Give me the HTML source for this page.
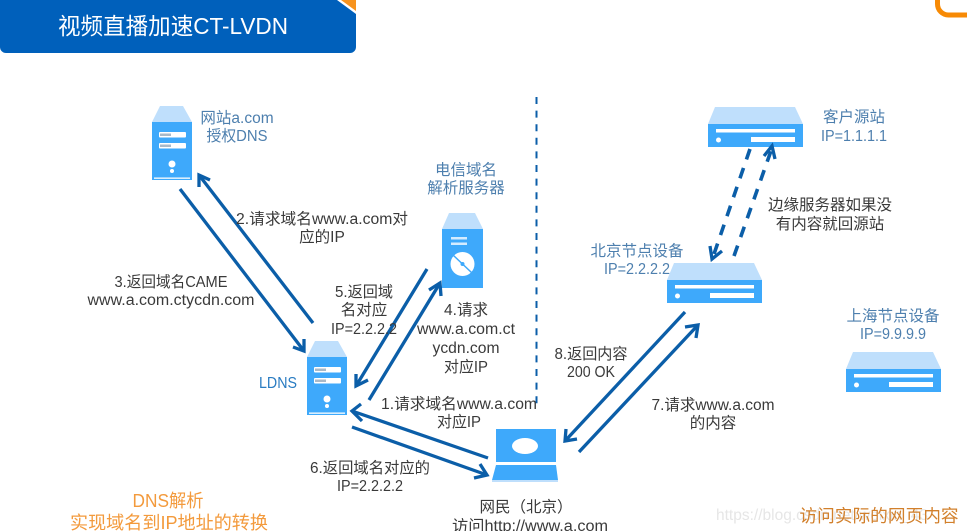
<!DOCTYPE html>
<html>
<head>
<meta charset="utf-8">
<style>
html,body{margin:0;padding:0;background:#fff;width:967px;height:531px;overflow:hidden}
svg{display:block;filter:blur(.35px)}
text{font-family:"Liberation Sans","Noto Sans CJK SC",sans-serif;font-size:15.500px;text-anchor:middle;fill:#3a3a3a}
.b{fill:#4d7fae}
.o{fill:#f39a3c;font-size:18px}
</style>
</head>
<body>
<svg width="967" height="531" viewBox="0 0 967 531" xmlns="http://www.w3.org/2000/svg">
<defs>
<g id="tower">
<path d="M8 0H31L40 16H0Z" fill="#bfdffc"/>
<rect y="16" width="40" height="58" fill="#3ea9fb"/>
<rect x="7" y="26" width="27" height="5.500" rx="1" fill="#fff"/>
<rect x="7" y="37" width="27" height="5.500" rx="1" fill="#fff"/>
<rect x="8" y="27.500" width="11" height="2.500" fill="#a9b9c8"/>
<rect x="8" y="38.500" width="11" height="2.500" fill="#a9b9c8"/>
<circle cx="20" cy="58" r="3.500" fill="#fff"/>
<circle cx="20" cy="65" r="2" fill="#fff"/>
<rect x="2" y="71.500" width="36" height="1.300" fill="#fff"/>
</g>
<g id="rack">
<path d="M7 0H87L95 17H0Z" fill="#bfdffc"/>
<rect y="17" width="95" height="23" fill="#3ea9fb"/>
<rect x="8" y="22" width="79" height="3.500" fill="#fff"/>
<rect x="43" y="30" width="44" height="5" fill="#fff"/>
<circle cx="10.500" cy="33" r="2.500" fill="#fff"/>
</g>
</defs>

<!-- title -->
<path d="M0 0H356V47a6 6 0 0 1-6 6H6a6 6 0 0 1-6-6Z" fill="#0060bb"/>
<path d="M337 0L356 14V0Z" fill="#fff"/>
<path d="M341 0L356 11V0Z" fill="#f7931e"/>
<text x="173" y="34" style="font-size:23px;fill:#fff" textLength="230" lengthAdjust="spacingAndGlyphs">视频直播加速CT-LVDN</text>
<path d="M937.500 0V4a11 11 0 0 0 11 11H967" fill="none" stroke="#f78a05" stroke-width="5"/>

<!-- divider -->
<path d="M536.500 97V405" stroke="#0b5ea8" stroke-width="2" stroke-dasharray="7 6.600"/>

<!-- devices -->
<use href="#tower" x="152" y="106"/>
<use href="#tower" x="307" y="341"/>

<path d="M449 213H475L483 229H442Z" fill="#bfdffc"/>
<rect x="442" y="229" width="41" height="59" fill="#3ea9fb"/>
<rect x="451" y="237" width="16" height="2.500" fill="#d5ecff"/>
<rect x="451" y="242.500" width="16" height="2.500" fill="#d5ecff"/>
<circle cx="462.500" cy="264" r="12" fill="#fff"/>
<path d="M453 255L472 273" stroke="#3ea9fb" stroke-width="1.500"/>
<circle cx="462.500" cy="264" r="2" fill="#3ea9fb"/>

<use href="#rack" x="708" y="107"/>
<use href="#rack" x="667" y="263"/>
<use href="#rack" x="846" y="352"/>

<!-- laptop -->
<rect x="496" y="429" width="60" height="33" fill="#3ea9fb"/>
<path d="M496 465H556L558 480H492Z" fill="#3ea9fb"/>
<rect x="492" y="480" width="66" height="2" fill="#bfdffc"/>
<ellipse cx="525" cy="446" rx="13" ry="8" fill="#fff"/>

<!-- arrows -->
<g fill="none" stroke="#0b5ea8" stroke-width="3.300">
<path d="M180 189L304 351"/><path d="M293 347L304 351L304 339"/>
<path d="M313 323L199 175"/><path d="M199 187L199 175L210 180"/>
<path d="M427 269L356 386"/><path d="M356 374L356 386L368 380"/>
<path d="M369 400L440 283"/><path d="M429 290L440 283L441 296"/>
<path d="M488 458L352 411"/><path d="M361 404L352 411L362 421"/>
<path d="M352 427L487 475"/><path d="M474 478L487 475L480 464"/>
<path d="M685 312L565 441"/><path d="M566 429L565 441L577 439"/>
<path d="M579 452L698 325"/><path d="M685 327L698 325L696 338"/>
<path d="M750 149L713 257" stroke-width="3.600" stroke-dasharray="11 9"/><path d="M710 246L712 259L722 251"/>
<path d="M734 256L772 148" stroke-width="3.600" stroke-dasharray="11 9"/><path d="M764 156L772 146L775 159"/>
</g>

<!-- device labels -->
<text class="b" x="237" y="123">网站a.com</text>
<text class="b" x="237" y="141" textLength="61" lengthAdjust="spacingAndGlyphs">授权DNS</text>
<text class="b" x="466" y="175">电信域名</text>
<text class="b" x="466" y="193">解析服务器</text>
<text x="278" y="388" style="fill:#2a7cc2" textLength="38" lengthAdjust="spacingAndGlyphs">LDNS</text>
<text class="b" x="854" y="122">客户源站</text>
<text class="b" x="854" y="141" textLength="66" lengthAdjust="spacingAndGlyphs">IP=1.1.1.1</text>
<text class="b" x="637" y="256">北京节点设备</text>
<text class="b" x="637" y="274" textLength="66" lengthAdjust="spacingAndGlyphs">IP=2.2.2.2</text>
<text class="b" x="893" y="321">上海节点设备</text>
<text class="b" x="893" y="339" textLength="66" lengthAdjust="spacingAndGlyphs">IP=9.9.9.9</text>

<!-- connector labels -->
<text x="322" y="224" textLength="172" lengthAdjust="spacingAndGlyphs">2.请求域名www.a.com对</text>
<text x="322" y="242">应的IP</text>
<text x="171" y="287" textLength="113" lengthAdjust="spacingAndGlyphs">3.返回域名CAME</text>
<text x="171" y="305" textLength="167" lengthAdjust="spacingAndGlyphs">www.a.com.ctycdn.com</text>
<text x="364" y="297" textLength="58" lengthAdjust="spacingAndGlyphs">5.返回域</text>
<text x="364" y="315">名对应</text>
<text x="364" y="334" textLength="66" lengthAdjust="spacingAndGlyphs">IP=2.2.2.2</text>
<text x="466" y="315">4.请求</text>
<text x="466" y="334" textLength="98" lengthAdjust="spacingAndGlyphs">www.a.com.ct</text>
<text x="466" y="353" textLength="67" lengthAdjust="spacingAndGlyphs">ycdn.com</text>
<text x="466" y="372" textLength="44" lengthAdjust="spacingAndGlyphs">对应IP</text>
<text x="459" y="409" textLength="156" lengthAdjust="spacingAndGlyphs">1.请求域名www.a.com</text>
<text x="459" y="427" textLength="44" lengthAdjust="spacingAndGlyphs">对应IP</text>
<text x="370" y="473" textLength="120" lengthAdjust="spacingAndGlyphs">6.返回域名对应的</text>
<text x="370" y="491" textLength="66" lengthAdjust="spacingAndGlyphs">IP=2.2.2.2</text>
<text x="526" y="512">网民（北京）</text>
<text x="530" y="531" textLength="156" lengthAdjust="spacingAndGlyphs">访问http://www.a.com</text>
<text x="591" y="359" textLength="73" lengthAdjust="spacingAndGlyphs">8.返回内容</text>
<text x="591" y="377" textLength="48" lengthAdjust="spacingAndGlyphs">200 OK</text>
<text x="713" y="410" textLength="123" lengthAdjust="spacingAndGlyphs">7.请求www.a.com</text>
<text x="713" y="428">的内容</text>
<text x="830" y="210">边缘服务器如果没</text>
<text x="830" y="229">有内容就回源站</text>

<!-- section captions -->
<text class="o" x="168" y="507" textLength="71" lengthAdjust="spacingAndGlyphs">DNS解析</text>
<text class="o" x="169" y="529" textLength="198" lengthAdjust="spacingAndGlyphs">实现域名到IP地址的转换</text>
<text x="716" y="520" style="fill:#e6e6e6;font-size:15.500px;text-anchor:start">https://blog.csdn.net/weixin_43</text>
<text x="879" y="522" style="fill:#d2802c;font-size:17.700px">访问实际的网页内容</text>
</svg>
</body>
</html>
